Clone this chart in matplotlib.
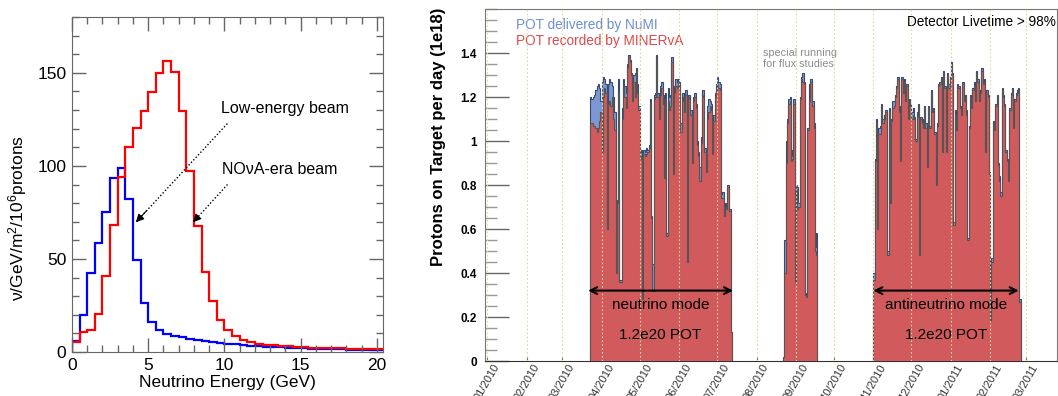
import matplotlib
matplotlib.use('Agg')
import matplotlib.pyplot as plt
import matplotlib.dates as mdates
from matplotlib.ticker import MultipleLocator
import numpy as np
import pandas as pd

plt.rcParams['font.family'] = ['Liberation Sans', 'DejaVu Sans']
plt.rcParams['mathtext.fontset'] = 'custom'
plt.rcParams['mathtext.rm'] = 'Liberation Sans'
plt.rcParams['mathtext.it'] = 'Liberation Sans:italic'

# ---- left panel: flux per 0.5 GeV bin ----
energy_edges = np.arange(0, 21.0, 0.5)
le_flux = [5.7, 20, 42.5, 58.6, 75.3, 93.5, 99, 82, 49.6, 26.2, 16, 12, 9.7, 8.8, 7.9, 7.0,
           6.4, 5.9, 5.4, 4.8, 4.5, 4.1, 3.8, 3.4, 3.1, 2.9, 2.7, 2.5, 2.3, 2.1, 2.0, 1.8,
           1.7, 1.6, 1.5, 1.4, 1.3, 1.2, 1.1, 1.0, 0.9]
nova_flux = [5.4, 10.6, 12, 20.6, 41, 68, 94, 110, 120.4, 129.4, 139.8, 150, 156.3, 150.5,
             129.4, 97, 67.6, 42.8, 27.2, 17.4, 11.6, 8.4, 6.6, 5.4, 4.5, 4.0, 3.6, 3.3, 3.0,
             2.8, 2.6, 2.4, 2.2, 2.1, 2.0, 1.9, 1.8, 1.7, 1.6, 1.5, 1.4]

# ---- right panel: daily POT (1e18) ----
nu_start = '2010-03-23'
nu_recorded = [1.08, 1.08, 1.07, 1.07, 1.06, 1.04, 1.06, 1.09, 1.13, 0.95,
               1.20, 1.24, 1.22, 0.60, 1.17, 1.18, 1.16, 1.20, 1.10, 1.05,
               0.40, 0.72, 1.22, 0.36, 0.36, 1.10, 1.25, 1.20, 1.15, 1.33,
               1.38, 1.36, 1.30, 1.18, 1.27, 1.20, 1.32, 1.22, 1.14, 0.92,
               0.93, 0.28, 0.94, 0.93, 0.94, 0.95, 0.97, 1.17, 0.65, 0.32,
               1.19, 1.20, 1.38, 1.20, 1.10, 1.21, 1.24, 1.17, 0.83, 1.19,
               0.57, 1.18, 1.14, 1.16, 1.36, 0.85, 1.22, 1.25, 1.24, 1.27,
               1.25, 1.04, 1.18, 1.20, 1.13, 1.21, 0.45, 1.20, 1.19, 1.12,
               0.90, 1.18, 1.20, 1.15, 0.98, 0.93, 0.82, 0.99, 1.21, 1.20,
               0.95, 0.86, 1.10, 1.13, 1.16, 1.14, 0.94, 1.09, 1.20, 1.23,
               1.26, 1.24, 1.23, 0.74, 0.74, 0.66, 0.70, 0.69, 0.79, 0.68,
               0.68, 0.13]
nu_delivered = [1.20, 1.19, 1.20, 1.21, 1.23, 1.25, 1.26, 1.24, 1.18, 1.27,
                1.29, 1.28, 1.26, 0.61, 1.26, 1.28, 1.27, 1.25, 1.20, 1.13,
                0.42, 0.73, 1.28, 0.37, 0.37, 1.15, 1.28, 1.25, 1.22, 1.35,
                1.39, 1.37, 1.31, 1.24, 1.30, 1.31, 1.33, 1.26, 1.16, 0.95,
                0.96, 0.32, 0.96, 0.95, 0.97, 0.96, 0.98, 1.19, 0.66, 0.44,
                1.21, 1.22, 1.39, 1.22, 1.14, 1.25, 1.27, 1.21, 0.85, 1.22,
                0.58, 1.24, 1.20, 1.21, 1.38, 0.86, 1.25, 1.28, 1.27, 1.28,
                1.27, 1.08, 1.22, 1.22, 1.19, 1.23, 0.46, 1.21, 1.21, 1.14,
                0.92, 1.20, 1.22, 1.17, 1.00, 0.95, 0.88, 1.02, 1.23, 1.23,
                0.97, 0.88, 1.16, 1.19, 1.18, 1.17, 0.95, 1.12, 1.22, 1.26,
                1.29, 1.27, 1.26, 0.76, 0.77, 0.68, 0.72, 0.70, 0.80, 0.69,
                0.69, 0.13]

flux_start = '2010-08-22'
flux_recorded = [0.02, 0.40, 0.90, 1.08, 1.17, 1.18, 0.91, 0.92, 1.17, 0.36,
                 0.78, 0.69, 0.70, 1.19, 1.28, 1.27, 1.26, 0.30, 0.29, 1.05,
                 1.18, 1.27, 1.27, 1.16, 1.06, 0.50, 0.48]
flux_delivered = [0.02, 0.55, 1.00, 1.10, 1.19, 1.20, 0.93, 0.96, 1.19, 0.40,
                  0.80, 0.79, 0.72, 1.20, 1.29, 1.31, 1.27, 0.31, 0.30, 1.06,
                  1.26, 1.28, 1.28, 1.18, 1.08, 0.52, 0.58]

anti_start = '2010-11-01'
anti_recorded = [0.37, 0.91, 1.08, 0.60, 1.03, 1.03, 1.16, 1.08, 1.10, 1.13,
                 1.13, 0.48, 1.13, 0.72, 1.09, 1.15, 1.16, 1.20, 1.24, 1.28,
                 1.13, 0.91, 1.28, 1.22, 1.27, 1.18, 1.25, 1.10, 1.18, 1.16,
                 1.10, 1.12, 1.10, 1.00, 1.11, 1.16, 0.48, 1.10, 1.08, 1.06,
                 1.15, 1.06, 0.88, 1.15, 1.06, 1.22, 1.13, 1.14, 1.03, 0.80,
                 1.07, 1.25, 1.26, 1.28, 0.95, 1.31, 1.24,
                 0.95, 1.30, 1.24, 1.28, 1.35, 1.30, 0.62, 1.12, 1.05, 1.25,
                 1.24, 1.15, 1.12, 1.26, 1.18, 1.20, 1.12, 0.55, 1.06, 1.20,
                 1.15, 1.23, 1.25, 1.18, 1.31, 1.27, 1.18, 1.22, 1.32, 1.26,
                 1.27, 0.95, 1.22, 1.20, 0.85, 0.18, 0.45, 1.08, 1.05, 1.16,
                 1.20, 0.89, 0.82, 0.75, 1.23, 1.20, 1.16, 0.95, 0.91, 0.82,
                 1.14, 1.21, 1.23, 1.06, 1.18, 1.21, 1.22, 1.23, 0.27]
anti_delivered = [0.40, 0.92, 1.10, 0.62, 1.06, 1.07, 1.17, 1.10, 1.12, 1.14,
                  1.14, 0.50, 1.15, 0.73, 1.10, 1.18, 1.18, 1.21, 1.25, 1.29,
                  1.16, 0.92, 1.29, 1.23, 1.28, 1.19, 1.26, 1.13, 1.19, 1.17,
                  1.13, 1.15, 1.11, 1.01, 1.13, 1.17, 0.49, 1.11, 1.10, 1.07,
                  1.16, 1.08, 0.90, 1.16, 1.07, 1.23, 1.14, 1.15, 1.04, 0.81,
                  1.08, 1.26, 1.27, 1.29, 0.96, 1.32, 1.25,
                  0.97, 1.31, 1.26, 1.29, 1.36, 1.31, 0.63, 1.14, 1.06, 1.26,
                  1.25, 1.16, 1.14, 1.27, 1.19, 1.21, 1.14, 0.56, 1.07, 1.21,
                  1.17, 1.24, 1.27, 1.20, 1.32, 1.28, 1.19, 1.23, 1.33, 1.27,
                  1.28, 0.96, 1.23, 1.21, 0.86, 0.19, 0.47, 1.09, 1.06, 1.17,
                  1.21, 0.90, 0.84, 0.77, 1.24, 1.21, 1.17, 0.96, 0.92, 0.84,
                  1.15, 1.22, 1.24, 1.07, 1.19, 1.22, 1.23, 1.24, 0.28]

month_starts = pd.date_range('2010-01-01', '2011-03-01', freq='MS')
nu_arrow = ['2010-03-21 10:00', '2010-07-13 12:00']
anti_arrow = ['2010-11-01', '2011-02-23 10:00']

BLUE_FILL = '#7b98d4'
BLUE_LINE = '#3a4a72'
RED_FILL = '#d05a5c'
RED_LINE = '#555555'

fig = plt.figure(figsize=(10.58, 3.96), dpi=100)

# ================= left panel =================
ax1 = fig.add_axes([72 / 1058, 1 - 352 / 396, 311 / 1058, 335 / 396])
ax1.stairs(le_flux, energy_edges, color='#0000ff', lw=1.6)
ax1.stairs(nova_flux, energy_edges, color='#ff0000', lw=1.6)
ax1.set_xlim(0, 20.4)
ax1.set_ylim(0, 180)
ax1.xaxis.set_major_locator(MultipleLocator(5))
ax1.xaxis.set_minor_locator(MultipleLocator(1))
ax1.yaxis.set_major_locator(MultipleLocator(50))
ax1.yaxis.set_minor_locator(MultipleLocator(10))
ax1.tick_params(which='both', direction='in', top=True, right=True, color='#666666',
                labelsize=12.5, pad=4)
ax1.tick_params(which='major', length=10, width=1)
ax1.tick_params(which='minor', length=5, width=1)
for s in ax1.spines.values():
    s.set_color('#666666')
ax1.set_xlabel('Neutrino Energy (GeV)', fontsize=12.5, labelpad=2)
fig.text(18 / 1058, 1 - 218 / 396, 'ν/GeV/m$^{2}$/10$^{6}$protons', rotation=90,
         ha='center', va='center', fontsize=12.5)

ax1.text(9.78, 130.6, 'Low-energy beam', fontsize=11.5, va='center', ha='left')
ax1.text(9.84, 98, 'NOνA-era beam', fontsize=11.5, va='center', ha='left')
# dotted pointer lines with solid heads
for (xs, ys), (xe, ye) in [((10.19, 122.7), (4.19, 69.7)), ((10.2, 90), (7.94, 69.7))]:
    ax1.plot([xs, xe], [ys, ye], color='black', lw=1, ls=(0, (1, 1.5)))
    ax1.annotate('', xy=(xe, ye), xytext=(xe + (xs - xe) * 0.12, ye + (ys - ye) * 0.12),
                 arrowprops=dict(arrowstyle='-|>', lw=0.8, color='black',
                                 mutation_scale=12, shrinkA=0, shrinkB=0))

# ================= right panel =================
ax2 = fig.add_axes([485 / 1058, 1 - 361 / 396, 572 / 1058, 352 / 396])


def run_edges(start, n):
    return mdates.date2num(pd.date_range(start, periods=n + 1, freq='D'))


for start, dlv, rec in [(nu_start, nu_delivered, nu_recorded),
                        (flux_start, flux_delivered, flux_recorded),
                        (anti_start, anti_delivered, anti_recorded)]:
    edges = run_edges(start, len(rec))
    ax2.stairs(dlv, edges, fill=True, color=BLUE_FILL, zorder=1)
    ax2.stairs(dlv, edges, color=BLUE_LINE, lw=0.8, baseline=0, zorder=2)
    ax2.stairs(rec, edges, fill=True, color=RED_FILL, zorder=3)
    ax2.stairs(rec, edges, color=RED_LINE, lw=0.8, baseline=0, zorder=4)

for m in month_starts:
    ax2.axvline(m, color='#e2d9a0', ls=(0, (1.5, 2)), lw=0.8, zorder=5)

x0 = mdates.date2num(pd.Timestamp('2010-01-01'))
ax2.set_xlim(x0 - 1.8, x0 + 448.6)
ax2.set_ylim(0, 1.6)
ax2.set_xticks(mdates.date2num(month_starts))
ax2.set_xticklabels([m.strftime('%m/%Y') for m in month_starts], rotation=60,
                    ha='center', va='top', fontsize=8, color='#333333')
ax2.tick_params(axis='x', direction='in', length=3, color='#666666', pad=1)
ax2.yaxis.set_major_locator(MultipleLocator(0.2))
ax2.yaxis.set_minor_locator(MultipleLocator(0.05))
ax2.set_yticks(np.arange(0, 1.41, 0.2))
ax2.set_yticklabels(['0', '0.2', '0.4', '0.6', '0.8', '1', '1.2', '1.4'],
                    fontweight='bold', fontsize=8.5)
ax2.tick_params(axis='y', which='major', direction='in', length=17, width=1,
                color='#666666', pad=6)
ax2.tick_params(axis='y', which='minor', direction='in', length=8.5, width=1,
                color='#999999')
for s in ax2.spines.values():
    s.set_color('#777777')
ax2.spines['bottom'].set_color('#333333')
fig.text(438 / 1058, 1 - 8 / 396, 'Protons on Target per day (1e18)', rotation=90,
         ha='center', va='top', fontsize=12, fontweight='bold')

ax2.text(0.055, 0.955, 'POT delivered by NuMI', transform=ax2.transAxes,
         color='#6f8fd2', fontsize=9.8, va='center')
ax2.text(0.055, 0.91, 'POT recorded by MINERvA', transform=ax2.transAxes,
         color='#e04a4a', fontsize=9.8, va='center')
ax2.text(0.998, 0.962, 'Detector Livetime > 98%', transform=ax2.transAxes,
         ha='right', va='center', fontsize=9.8)
ax2.text(0.486, 0.86, 'special running\nfor flux studies', transform=ax2.transAxes,
         ha='left', va='center', fontsize=7.8, color='#8c8c8c', linespacing=1.1)

for arrow, label in [(nu_arrow, 'neutrino mode'), (anti_arrow, 'antineutrino mode')]:
    a0 = mdates.date2num(pd.Timestamp(arrow[0]))
    a1 = mdates.date2num(pd.Timestamp(arrow[1]))
    ax2.annotate('', xy=(a1, 0.32), xytext=(a0, 0.32),
                 arrowprops=dict(arrowstyle='<->', lw=1.5, color='black',
                                 mutation_scale=12, shrinkA=0, shrinkB=0), zorder=6)
    mid = (a0 + a1) / 2
    ax2.text(mid, 0.255, label, ha='center', va='center', fontsize=11, zorder=6)
    ax2.text(mid, 0.118, '1.2e20 POT', ha='center', va='center', fontsize=11, zorder=6)

fig.savefig('out.png', dpi=100)
